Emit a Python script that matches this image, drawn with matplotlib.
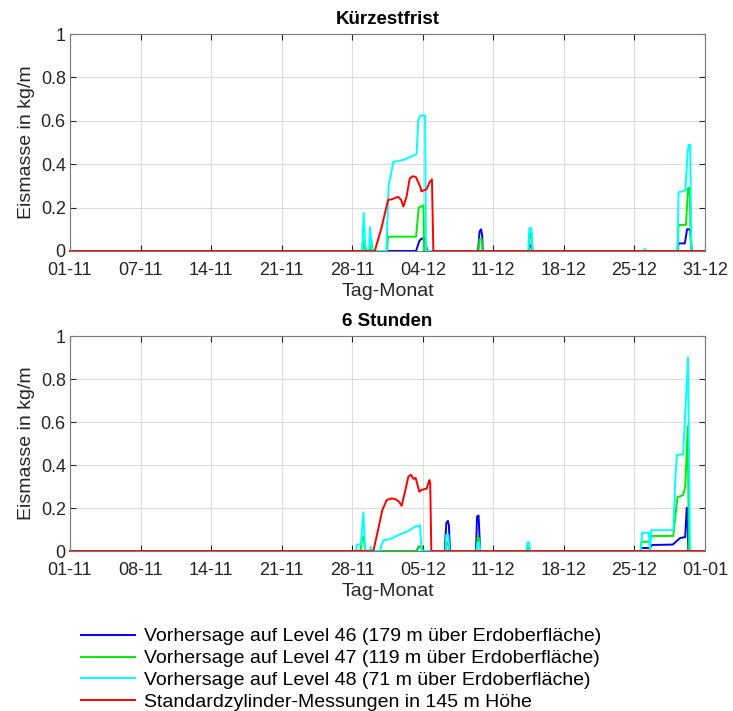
import matplotlib
matplotlib.use("Agg")
import matplotlib.pyplot as plt
import numpy as np

plt.rcParams["font.family"] = ["Liberation Sans", "DejaVu Sans"]

# ---------------------------------------------------------------
# Ice mass (kg/m) over time, time in days since 01-11 00:00
# ---------------------------------------------------------------
series_labels = [
    "Vorhersage auf Level 46 (179 m über Erdoberfläche)",
    "Vorhersage auf Level 47 (119 m über Erdoberfläche)",
    "Vorhersage auf Level 48 (71 m über Erdoberfläche)",
    "Standardzylinder-Messungen in 145 m Höhe",
]
series_colors = ["#0000ff", "#00ee00", "#00ffff", "#ff0000"]

# --- Kürzestfrist (nowcast) ---
nc_days_max = 60
nc_ticklabels = ["01-11", "07-11", "14-11", "21-11", "28-11",
                 "04-12", "11-12", "18-12", "25-12", "31-12"]

nc_t_l46 = [0, 32.7, 33.0, 33.2, 33.55, 33.73, 38.55, 38.7, 38.85, 38.95, 39.0,
            43.35, 43.45, 43.6, 43.7, 57.4, 57.5, 58.1, 58.3, 58.6, 58.75, 60]
nc_v_l46 = [0, 0, 0.045, 0.057, 0.057, 0, 0, 0.09, 0.1, 0.07, 0,
            0, 0.025, 0.025, 0, 0, 0.035, 0.035, 0.1, 0.1, 0, 0]

nc_t_l47 = [0, 27.6, 27.7, 27.85, 28.0, 28.35, 28.45, 28.6, 29.95, 30.05, 32.7, 32.95,
            33.4, 33.45, 38.6, 38.7, 38.9, 39.0, 43.35, 43.45, 43.6, 43.7,
            54.2, 54.35, 54.5, 57.4, 57.5, 58.2, 58.4, 58.55, 58.68, 60]
nc_v_l47 = [0, 0, 0.045, 0.01, 0, 0, 0.06, 0, 0, 0.066, 0.066, 0.2,
            0.21, 0, 0, 0.055, 0.055, 0, 0, 0.08, 0.08, 0,
            0, 0.005, 0, 0, 0.12, 0.12, 0.29, 0.29, 0, 0]

nc_t_l48 = [0, 27.6, 27.75, 27.9, 28.1, 28.25, 28.35, 28.5, 28.6, 29.9, 30.1, 30.55,
            31.0, 31.5, 32.0, 32.75, 32.9, 33.1, 33.55, 33.64, 43.3, 43.4, 43.6, 43.7,
            54.2, 54.3, 54.45, 57.4, 57.5, 58.15, 58.35, 58.45, 58.6, 58.72, 60]
nc_v_l48 = [0, 0, 0.175, 0.02, 0, 0, 0.11, 0.02, 0, 0, 0.3, 0.41,
            0.415, 0.42, 0.43, 0.447, 0.6, 0.625, 0.625, 0, 0, 0.105, 0.105, 0,
            0, 0.01, 0, 0, 0.27, 0.28, 0.45, 0.49, 0.49, 0, 0]

nc_t_obs = [0, 28.8, 29.45, 30.05, 30.5, 31.0, 31.3, 31.5, 31.8, 32.1, 32.4,
            32.7, 33.1, 33.2, 33.7, 34.0, 34.2, 34.33, 60]
nc_v_obs = [0, 0, 0.11, 0.235, 0.24, 0.25, 0.235, 0.205, 0.25, 0.335, 0.345,
            0.34, 0.295, 0.275, 0.285, 0.32, 0.33, 0, 0]

# --- 6 Stunden (6 h lead time) ---
h6_days_max = 61
h6_ticklabels = ["01-11", "08-11", "14-11", "21-11", "28-11",
                 "05-12", "11-12", "18-12", "25-12", "01-01"]

h6_t_l46 = [0, 33.3, 33.5, 33.8, 33.9, 36.0, 36.15, 36.3, 36.4, 36.5,
            39.0, 39.1, 39.25, 39.4, 54.8, 54.9, 55.7, 55.9, 57.9, 58.6, 59.1,
            59.24, 59.3, 59.4, 61]
h6_v_l46 = [0, 0, 0.02, 0.02, 0, 0, 0.13, 0.14, 0.12, 0,
            0, 0.16, 0.165, 0, 0, 0.014, 0.014, 0.028, 0.03, 0.06, 0.065,
            0.2, 0.2, 0, 0]

h6_t_l47 = [0, 27.9, 28.05, 28.2, 28.35, 33.3, 33.5, 33.8, 33.9, 36.1, 36.2, 36.35, 36.45,
            39.05, 39.15, 39.3, 39.4, 43.85, 43.95, 44.1, 44.2,
            54.8, 54.9, 55.7, 55.9, 57.95, 58.35, 58.9, 59.1, 59.35, 59.45, 61]
h6_v_l47 = [0, 0, 0.06, 0.065, 0, 0, 0.02, 0.02, 0, 0, 0.04, 0.04, 0,
            0, 0.06, 0.06, 0, 0, 0.015, 0.015, 0,
            0, 0.043, 0.043, 0.07, 0.07, 0.25, 0.26, 0.3, 0.58, 0, 0]

h6_t_l48 = [0, 27.5, 27.55, 27.7, 27.95, 28.18, 28.34, 28.4, 28.8, 28.9, 29.0,
            29.78, 29.94, 30.1, 30.74, 31.54, 32.34, 33.14, 33.62, 33.78,
            36.05, 36.15, 36.35, 36.45, 39.05, 39.15, 39.3, 39.4,
            43.85, 43.95, 44.1, 44.2, 54.85, 54.95, 55.6, 55.72, 55.85,
            57.96, 58.15, 58.3, 58.9, 59.37, 59.56, 61]
h6_v_l48 = [0, 0, 0.03, 0.03, 0.03, 0.18, 0.02, 0, 0, 0.02, 0,
            0, 0.03, 0.05, 0.055, 0.074, 0.09, 0.113, 0.12, 0,
            0, 0.075, 0.075, 0, 0, 0.04, 0.04, 0,
            0, 0.04, 0.04, 0, 0, 0.085, 0.085, 0, 0.097,
            0.097, 0.34, 0.447, 0.45, 0.9, 0, 0]

h6_t_obs = [0, 29.14, 29.6, 30.0, 30.42, 30.9, 31.3, 31.6, 31.86, 32.2, 32.5,
            32.75, 33.0, 33.2, 33.56, 33.8, 34.26, 34.52, 34.6, 34.71, 61]
h6_v_obs = [0, 0, 0.1, 0.19, 0.237, 0.245, 0.24, 0.23, 0.21, 0.28, 0.345,
            0.355, 0.335, 0.34, 0.276, 0.285, 0.29, 0.33, 0.32, 0, 0]

yticks = [0, 0.2, 0.4, 0.6, 0.8, 1]
ytick_labels = ["0", "0.2", "0.4", "0.6", "0.8", "1"]

panels = [
    ("Kürzestfrist", nc_days_max, nc_ticklabels,
     [(nc_t_l46, nc_v_l46), (nc_t_l47, nc_v_l47), (nc_t_l48, nc_v_l48), (nc_t_obs, nc_v_obs)]),
    ("6 Stunden", h6_days_max, h6_ticklabels,
     [(h6_t_l46, h6_v_l46), (h6_t_l47, h6_v_l47), (h6_t_l48, h6_v_l48), (h6_t_obs, h6_v_obs)]),
]

fig = plt.figure(figsize=(7.33, 7.11), dpi=100)
axes_rects = [[0.0955, 0.647, 0.8663, 0.305], [0.0955, 0.225, 0.8663, 0.3024]]
edge = "#262626"

handles = []
for rect, (title, xmax, xticklabels, data) in zip(axes_rects, panels):
    ax = fig.add_axes(rect)
    handles = []
    for (t, v), color, label in zip(data, series_colors, series_labels):
        line, = ax.plot(t, v, color=color, lw=1.4, label=label,
                        solid_joinstyle="round", clip_on=False)
        handles.append(line)
    ax.set_xlim(0, xmax)
    ax.set_ylim(0, 1)
    ax.set_xticks(np.linspace(0, xmax, len(xticklabels)))
    ax.set_xticklabels(xticklabels)
    ax.set_yticks(yticks)
    ax.set_yticklabels(ytick_labels)
    ax.grid(True, color="#dcdcdc", lw=0.8)
    ax.set_axisbelow(True)
    ax.tick_params(direction="in", length=4, width=0.8, color=edge,
                   labelcolor=edge, labelsize=13, top=True, right=True)
    ax.tick_params(axis="x", pad=8)
    ax.tick_params(axis="y", pad=3)
    for sp in ax.spines.values():
        sp.set_color("#7a7a7a")
        sp.set_linewidth(0.8)
    ax.set_title(title, fontsize=13.5, fontweight="bold", color="black", pad=7.5)
    ax.set_xlabel("Tag-Monat", fontsize=14, color=edge, labelpad=2.5)
    ax.set_ylabel("Eismasse in kg/m", fontsize=14, color=edge, labelpad=4)

fig.legend(handles=handles, labels=series_labels, loc="upper left",
           bbox_to_anchor=(0.111, 0.117), bbox_transform=fig.transFigure,
           frameon=False, fontsize=14, handlelength=2.75, handletextpad=0.45,
           labelspacing=0.22, borderaxespad=0, borderpad=0)

fig.savefig("out.png", dpi=100)
